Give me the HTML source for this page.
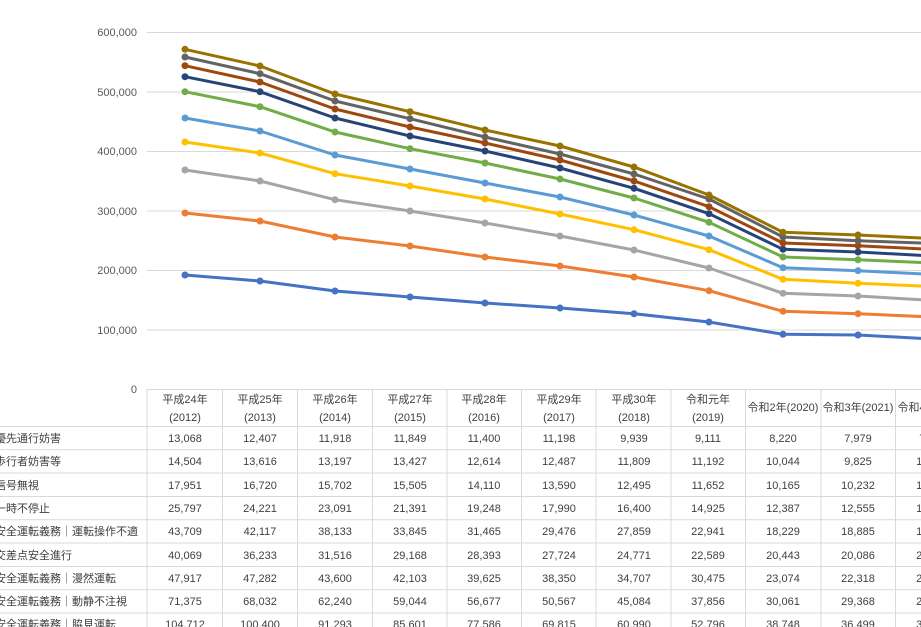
<!DOCTYPE html>
<html><head><meta charset="utf-8"><style>
html,body{margin:0;padding:0;background:#fff;overflow:hidden}
svg{display:block;font-family:"Liberation Sans","Noto Sans CJK JP",sans-serif}
</style></head><body>
<svg width="921" height="627" viewBox="0 0 921 627" xmlns="http://www.w3.org/2000/svg">
<g stroke="#d9d9d9" stroke-width="1">
<line x1="147" y1="32.5" x2="921" y2="32.5"/>
<line x1="147" y1="92" x2="921" y2="92"/>
<line x1="147" y1="151.5" x2="921" y2="151.5"/>
<line x1="147" y1="211" x2="921" y2="211"/>
<line x1="147" y1="270.5" x2="921" y2="270.5"/>
<line x1="147" y1="330" x2="921" y2="330"/>
<line x1="147" y1="389.5" x2="921" y2="389.5"/>
</g>
<g fill="#595959" font-size="11" text-anchor="end">
<text x="137" y="36">600,000</text>
<text x="137" y="96">500,000</text>
<text x="137" y="155">400,000</text>
<text x="137" y="215">300,000</text>
<text x="137" y="274">200,000</text>
<text x="137" y="334">100,000</text>
<text x="137" y="393">0</text>
</g>
<!-- table grid -->
<g stroke="#d9d9d9" stroke-width="1">
<line x1="0" y1="426.5" x2="921" y2="426.5"/>
<line x1="0" y1="449.8" x2="921" y2="449.8"/>
<line x1="0" y1="473" x2="921" y2="473"/>
<line x1="0" y1="496.5" x2="921" y2="496.5"/>
<line x1="0" y1="519.8" x2="921" y2="519.8"/>
<line x1="0" y1="543" x2="921" y2="543"/>
<line x1="0" y1="566.5" x2="921" y2="566.5"/>
<line x1="0" y1="589.8" x2="921" y2="589.8"/>
<line x1="0" y1="613" x2="921" y2="613"/>
<line x1="147" y1="389" x2="147" y2="627"/>
<line x1="222.5" y1="389" x2="222.5" y2="627"/>
<line x1="297.5" y1="389" x2="297.5" y2="627"/>
<line x1="372.5" y1="389" x2="372.5" y2="627"/>
<line x1="447" y1="389" x2="447" y2="627"/>
<line x1="521.5" y1="389" x2="521.5" y2="627"/>
<line x1="596" y1="389" x2="596" y2="627"/>
<line x1="671" y1="389" x2="671" y2="627"/>
<line x1="745.5" y1="389" x2="745.5" y2="627"/>
<line x1="821" y1="389" x2="821" y2="627"/>
<line x1="895.5" y1="389" x2="895.5" y2="627"/>
</g>
<g fill="#404040" font-size="11" text-anchor="middle">
<text x="185" y="403">平成24年</text><text x="185" y="421">(2012)</text>
<text x="260" y="403">平成25年</text><text x="260" y="421">(2013)</text>
<text x="335" y="403">平成26年</text><text x="335" y="421">(2014)</text>
<text x="410" y="403">平成27年</text><text x="410" y="421">(2015)</text>
<text x="484" y="403">平成28年</text><text x="484" y="421">(2016)</text>
<text x="559" y="403">平成29年</text><text x="559" y="421">(2017)</text>
<text x="634" y="403">平成30年</text><text x="634" y="421">(2018)</text>
<text x="708" y="403">令和元年</text><text x="708" y="421">(2019)</text>
<text x="783" y="411">令和2年(2020)</text>
<text x="858" y="411">令和3年(2021)</text>
<text x="933" y="411">令和4年(2022)</text>
</g>
<g fill="#404040" font-size="11">
<text x="-5" y="442">優先通行妨害</text>
<text x="-5" y="465">歩行者妨害等</text>
<text x="-5" y="489">信号無視</text>
<text x="-5" y="512">一時不停止</text>
<text x="-5" y="535">安全運転義務｜運転操作不適</text>
<text x="-5" y="559">交差点安全進行</text>
<text x="-5" y="582">安全運転義務｜漫然運転</text>
<text x="-5" y="605">安全運転義務｜動静不注視</text>
<text x="-5" y="628">安全運転義務｜脇見運転</text>
</g>
<g fill="#404040" font-size="11" text-anchor="middle">
<g transform="translate(0,442)"><text x="185">13,068</text><text x="260">12,407</text><text x="335">11,918</text><text x="410">11,849</text><text x="484">11,400</text><text x="559">11,198</text><text x="634">9,939</text><text x="708">9,111</text><text x="783">8,220</text><text x="858">7,979</text><text x="933">7,400</text></g>
<g transform="translate(0,465)"><text x="185">14,504</text><text x="260">13,616</text><text x="335">13,197</text><text x="410">13,427</text><text x="484">12,614</text><text x="559">12,487</text><text x="634">11,809</text><text x="708">11,192</text><text x="783">10,044</text><text x="858">9,825</text><text x="933">10,100</text></g>
<g transform="translate(0,489)"><text x="185">17,951</text><text x="260">16,720</text><text x="335">15,702</text><text x="410">15,505</text><text x="484">14,110</text><text x="559">13,590</text><text x="634">12,495</text><text x="708">11,652</text><text x="783">10,165</text><text x="858">10,232</text><text x="933">10,100</text></g>
<g transform="translate(0,512)"><text x="185">25,797</text><text x="260">24,221</text><text x="335">23,091</text><text x="410">21,391</text><text x="484">19,248</text><text x="559">17,990</text><text x="634">16,400</text><text x="708">14,925</text><text x="783">12,387</text><text x="858">12,555</text><text x="933">12,300</text></g>
<g transform="translate(0,535)"><text x="185">43,709</text><text x="260">42,117</text><text x="335">38,133</text><text x="410">33,845</text><text x="484">31,465</text><text x="559">29,476</text><text x="634">27,859</text><text x="708">22,941</text><text x="783">18,229</text><text x="858">18,885</text><text x="933">18,500</text></g>
<g transform="translate(0,559)"><text x="185">40,069</text><text x="260">36,233</text><text x="335">31,516</text><text x="410">29,168</text><text x="484">28,393</text><text x="559">27,724</text><text x="634">24,771</text><text x="708">22,589</text><text x="783">20,443</text><text x="858">20,086</text><text x="933">20,100</text></g>
<g transform="translate(0,582)"><text x="185">47,917</text><text x="260">47,282</text><text x="335">43,600</text><text x="410">42,103</text><text x="484">39,625</text><text x="559">38,350</text><text x="634">34,707</text><text x="708">30,475</text><text x="783">23,074</text><text x="858">22,318</text><text x="933">22,000</text></g>
<g transform="translate(0,605)"><text x="185">71,375</text><text x="260">68,032</text><text x="335">62,240</text><text x="410">59,044</text><text x="484">56,677</text><text x="559">50,567</text><text x="634">45,084</text><text x="708">37,856</text><text x="783">30,061</text><text x="858">29,368</text><text x="933">28,900</text></g>
<g transform="translate(0,628)"><text x="185">104,712</text><text x="260">100,400</text><text x="335">91,293</text><text x="410">85,601</text><text x="484">77,586</text><text x="559">69,815</text><text x="634">60,990</text><text x="708">52,796</text><text x="783">38,748</text><text x="858">36,499</text><text x="933">35,000</text></g>
</g>
<!-- series -->
<g fill="none" stroke-width="3" stroke-linejoin="round">
<polyline stroke="#4472C4" points="185,275 260,281 335,291 410,297 485,303 560,308 634,313.7 709,322 783,334.3 858,335 933,339"/>
<polyline stroke="#ED7D31" points="185,213 260,221 335,237 410,246 485,257 560,266 634,277 709,290.7 783,311.3 858,313.7 933,317"/>
<polyline stroke="#A5A5A5" points="185,170 260,181 335,199.7 410,211 485,223 560,236 634,250 709,268 783,293.3 858,296 933,300.5"/>
<polyline stroke="#FFC000" points="185,142 260,153 335,173.7 410,186 485,199 560,214 634,229.7 709,249.7 783,279.3 858,283.3 933,286.5"/>
<polyline stroke="#5B9BD5" points="185,118 260,131 335,155 410,169 485,183 560,197 634,215 709,236 783,267.7 858,270.7 933,274.5"/>
<polyline stroke="#70AD47" points="185,91.7 260,106.7 335,132 410,148.7 485,163 560,179 634,198 709,222.3 783,257 858,259.7 933,263"/>
<polyline stroke="#264478" points="185,76.7 260,91.7 335,118 410,136 485,151 560,168 634,188.3 709,213.7 783,249.3 858,252 933,256"/>
<polyline stroke="#9E480E" points="185,65.7 260,82 335,109 410,127 485,143 560,160 634,181 709,206.7 783,243 858,245.7 933,249.5"/>
<polyline stroke="#636363" points="185,57 260,73.7 335,101 410,118.7 485,137 560,154 634,174 709,199 783,237 858,240.7 933,243.5"/>
<polyline stroke="#997300" points="185,49.3 260,66 335,94 410,111.7 485,130 560,146 634,167 709,195 783,232.3 858,235 933,238.5"/>
</g>
<g>
<g fill="#4472C4"><circle cx="185" cy="275" r="3.5"/><circle cx="260" cy="281" r="3.5"/><circle cx="335" cy="291" r="3.5"/><circle cx="410" cy="297" r="3.5"/><circle cx="485" cy="303" r="3.5"/><circle cx="560" cy="308" r="3.5"/><circle cx="634" cy="313.7" r="3.5"/><circle cx="709" cy="322" r="3.5"/><circle cx="783" cy="334.3" r="3.5"/><circle cx="858" cy="335" r="3.5"/></g>
<g fill="#ED7D31"><circle cx="185" cy="213" r="3.5"/><circle cx="260" cy="221" r="3.5"/><circle cx="335" cy="237" r="3.5"/><circle cx="410" cy="246" r="3.5"/><circle cx="485" cy="257" r="3.5"/><circle cx="560" cy="266" r="3.5"/><circle cx="634" cy="277" r="3.5"/><circle cx="709" cy="290.7" r="3.5"/><circle cx="783" cy="311.3" r="3.5"/><circle cx="858" cy="313.7" r="3.5"/></g>
<g fill="#A5A5A5"><circle cx="185" cy="170" r="3.5"/><circle cx="260" cy="181" r="3.5"/><circle cx="335" cy="199.7" r="3.5"/><circle cx="410" cy="211" r="3.5"/><circle cx="485" cy="223" r="3.5"/><circle cx="560" cy="236" r="3.5"/><circle cx="634" cy="250" r="3.5"/><circle cx="709" cy="268" r="3.5"/><circle cx="783" cy="293.3" r="3.5"/><circle cx="858" cy="296" r="3.5"/></g>
<g fill="#FFC000"><circle cx="185" cy="142" r="3.5"/><circle cx="260" cy="153" r="3.5"/><circle cx="335" cy="173.7" r="3.5"/><circle cx="410" cy="186" r="3.5"/><circle cx="485" cy="199" r="3.5"/><circle cx="560" cy="214" r="3.5"/><circle cx="634" cy="229.7" r="3.5"/><circle cx="709" cy="249.7" r="3.5"/><circle cx="783" cy="279.3" r="3.5"/><circle cx="858" cy="283.3" r="3.5"/></g>
<g fill="#5B9BD5"><circle cx="185" cy="118" r="3.5"/><circle cx="260" cy="131" r="3.5"/><circle cx="335" cy="155" r="3.5"/><circle cx="410" cy="169" r="3.5"/><circle cx="485" cy="183" r="3.5"/><circle cx="560" cy="197" r="3.5"/><circle cx="634" cy="215" r="3.5"/><circle cx="709" cy="236" r="3.5"/><circle cx="783" cy="267.7" r="3.5"/><circle cx="858" cy="270.7" r="3.5"/></g>
<g fill="#70AD47"><circle cx="185" cy="91.7" r="3.5"/><circle cx="260" cy="106.7" r="3.5"/><circle cx="335" cy="132" r="3.5"/><circle cx="410" cy="148.7" r="3.5"/><circle cx="485" cy="163" r="3.5"/><circle cx="560" cy="179" r="3.5"/><circle cx="634" cy="198" r="3.5"/><circle cx="709" cy="222.3" r="3.5"/><circle cx="783" cy="257" r="3.5"/><circle cx="858" cy="259.7" r="3.5"/></g>
<g fill="#264478"><circle cx="185" cy="76.7" r="3.5"/><circle cx="260" cy="91.7" r="3.5"/><circle cx="335" cy="118" r="3.5"/><circle cx="410" cy="136" r="3.5"/><circle cx="485" cy="151" r="3.5"/><circle cx="560" cy="168" r="3.5"/><circle cx="634" cy="188.3" r="3.5"/><circle cx="709" cy="213.7" r="3.5"/><circle cx="783" cy="249.3" r="3.5"/><circle cx="858" cy="252" r="3.5"/></g>
<g fill="#9E480E"><circle cx="185" cy="65.7" r="3.5"/><circle cx="260" cy="82" r="3.5"/><circle cx="335" cy="109" r="3.5"/><circle cx="410" cy="127" r="3.5"/><circle cx="485" cy="143" r="3.5"/><circle cx="560" cy="160" r="3.5"/><circle cx="634" cy="181" r="3.5"/><circle cx="709" cy="206.7" r="3.5"/><circle cx="783" cy="243" r="3.5"/><circle cx="858" cy="245.7" r="3.5"/></g>
<g fill="#636363"><circle cx="185" cy="57" r="3.5"/><circle cx="260" cy="73.7" r="3.5"/><circle cx="335" cy="101" r="3.5"/><circle cx="410" cy="118.7" r="3.5"/><circle cx="485" cy="137" r="3.5"/><circle cx="560" cy="154" r="3.5"/><circle cx="634" cy="174" r="3.5"/><circle cx="709" cy="199" r="3.5"/><circle cx="783" cy="237" r="3.5"/><circle cx="858" cy="240.7" r="3.5"/></g>
<g fill="#997300"><circle cx="185" cy="49.3" r="3.5"/><circle cx="260" cy="66" r="3.5"/><circle cx="335" cy="94" r="3.5"/><circle cx="410" cy="111.7" r="3.5"/><circle cx="485" cy="130" r="3.5"/><circle cx="560" cy="146" r="3.5"/><circle cx="634" cy="167" r="3.5"/><circle cx="709" cy="195" r="3.5"/><circle cx="783" cy="232.3" r="3.5"/><circle cx="858" cy="235" r="3.5"/></g>
</g>
</svg>
</body></html>
